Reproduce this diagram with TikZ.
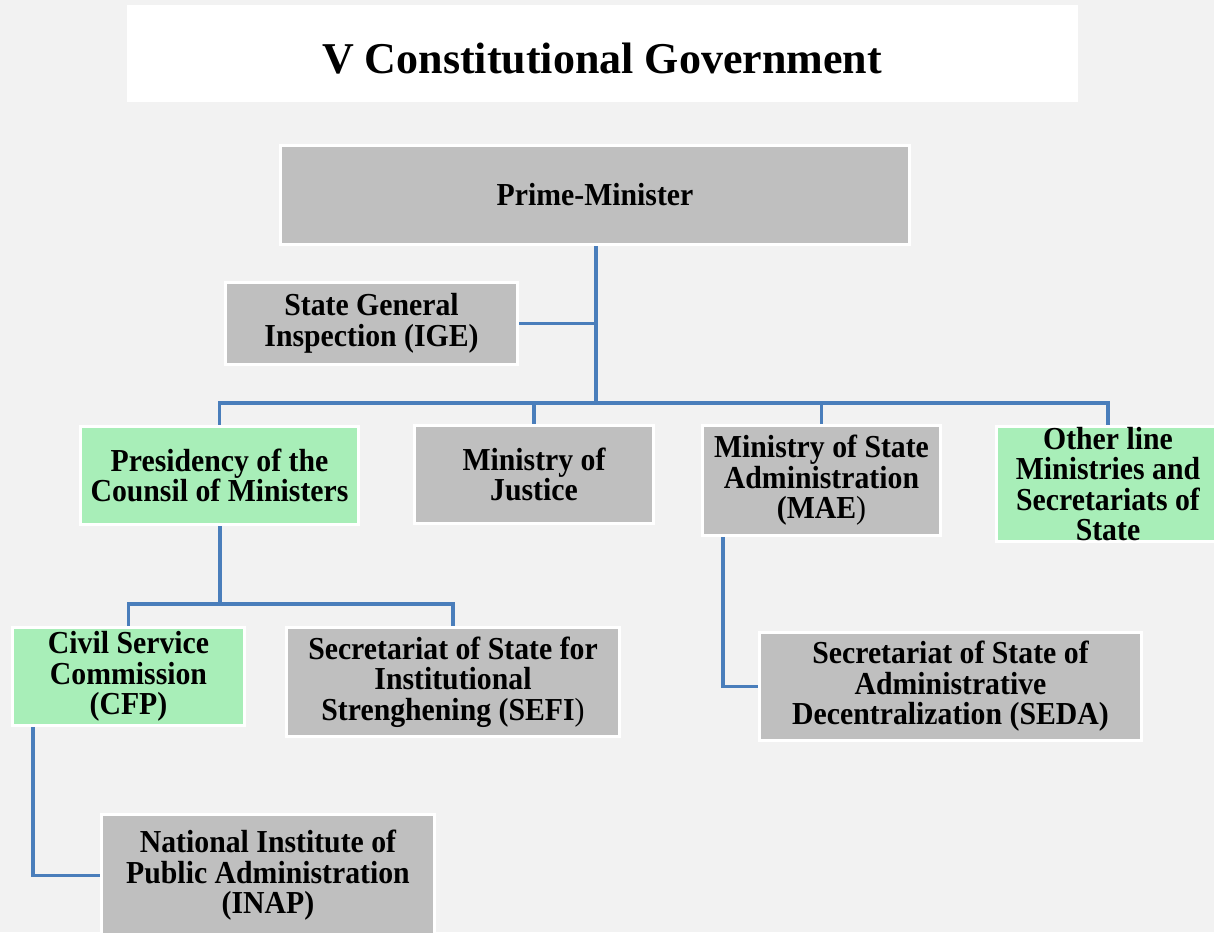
\documentclass[tikz,border=0pt]{standalone}
\usepackage{fontspec}
\setmainfont{Liberation Serif}[FakeStretch=0.93]
\newfontfamily\titlefont{Liberation Serif}
\usetikzlibrary{backgrounds}
\definecolor{pagebg}{HTML}{F2F2F2}
\definecolor{boxgray}{HTML}{BFBFBF}
\definecolor{boxgreen}{HTML}{A8EEB8}
\definecolor{linkblue}{HTML}{4A7EBB}
\tikzset{
  unit/.style={draw=white, line width=3pt, inner sep=0pt, align=center,
    font=\bfseries\fontsize{32}{30.5}\selectfont},
  grayunit/.style={unit, fill=boxgray},
  greenunit/.style={unit, fill=boxgreen},
  link/.style={draw=linkblue, line width=3.2pt}
}
\newcommand{\thinparen}{{\mdseries )}}
\begin{document}
\begin{tikzpicture}[x=1pt,y=-1pt]
\useasboundingbox (0,0) rectangle (1214,932);

% title banner
\fill[white] (127,5) rectangle (1078,102);
\node[font=\titlefont\bfseries\fontsize{44}{50}\selectfont] (title) at (602,59) {V Constitutional Government};

% top level
\node[grayunit, minimum width=629pt, minimum height=99pt] (pm) at (595,195) {Prime-Minister};
\node[grayunit, minimum width=292pt, minimum height=82pt] (ige) at (371.5,323.5) {State General\\Inspection (IGE)};

% ministries
\node[greenunit, minimum width=278pt, minimum height=98pt] (pres) at (219.5,475.5) {Presidency of the\\Counsil of Ministers};
\node[grayunit, minimum width=239pt, minimum height=98pt] (just) at (534,474.5) {Ministry of\\Justice};
\node[grayunit, minimum width=238pt, minimum height=110pt] (mae) at (821.5,480.5) {Ministry of State\\Administration\\(MAE\thinparen};
\node[greenunit, minimum width=223pt, minimum height=115pt] (other) at (1108,484) {Other line\\Ministries and\\Secretariats of\\State};

% second level
\node[greenunit, minimum width=232pt, minimum height=98pt] (cfp) at (128.5,676.5) {Civil Service\\Commission\\(CFP)};
\node[grayunit, minimum width=333pt, minimum height=109pt] (sefi) at (453,682) {Secretariat of State for\\Institutional\\Strenghening (SEFI\thinparen};
\node[grayunit, minimum width=382pt, minimum height=108pt] (seda) at (950.5,686.5) {Secretariat of State of\\Administrative\\Decentralization (SEDA)};
\node[grayunit, minimum width=333pt, minimum height=123pt] (inap) at (268,875.5) {National Institute of\\Public Administration\\(INAP)};

\begin{scope}[on background layer]
  \fill[pagebg] (0,0) rectangle (1214,932);
  \coordinate (bus) at (596,403);
  \coordinate (sub) at (220,604);
  % Prime-Minister trunk and inspection branch
  \draw[link] (pm.south -| bus) -- (bus);
  \draw[link] (ige.east) -- (ige.east -| bus);
  % ministries bus
  \draw[link] (pres.north) -- (pres.north |- bus) -- (other.north |- bus) -- (other.north);
  \draw[link] (just.north) -- (just.north |- bus);
  \draw[link] (mae.north) -- (mae.north |- bus);
  % presidency subordinates
  \draw[link] (pres.south -| sub) -- (sub);
  \draw[link] (cfp.north) -- (cfp.north |- sub) -- (sefi.north |- sub) -- (sefi.north);
  % side branches
  \draw[link] ([xshift=22pt]cfp.south west) |- (inap.west);
  \draw[link] ([xshift=22pt]mae.south west) |- (seda.west);
\end{scope}
\end{tikzpicture}
\end{document}
